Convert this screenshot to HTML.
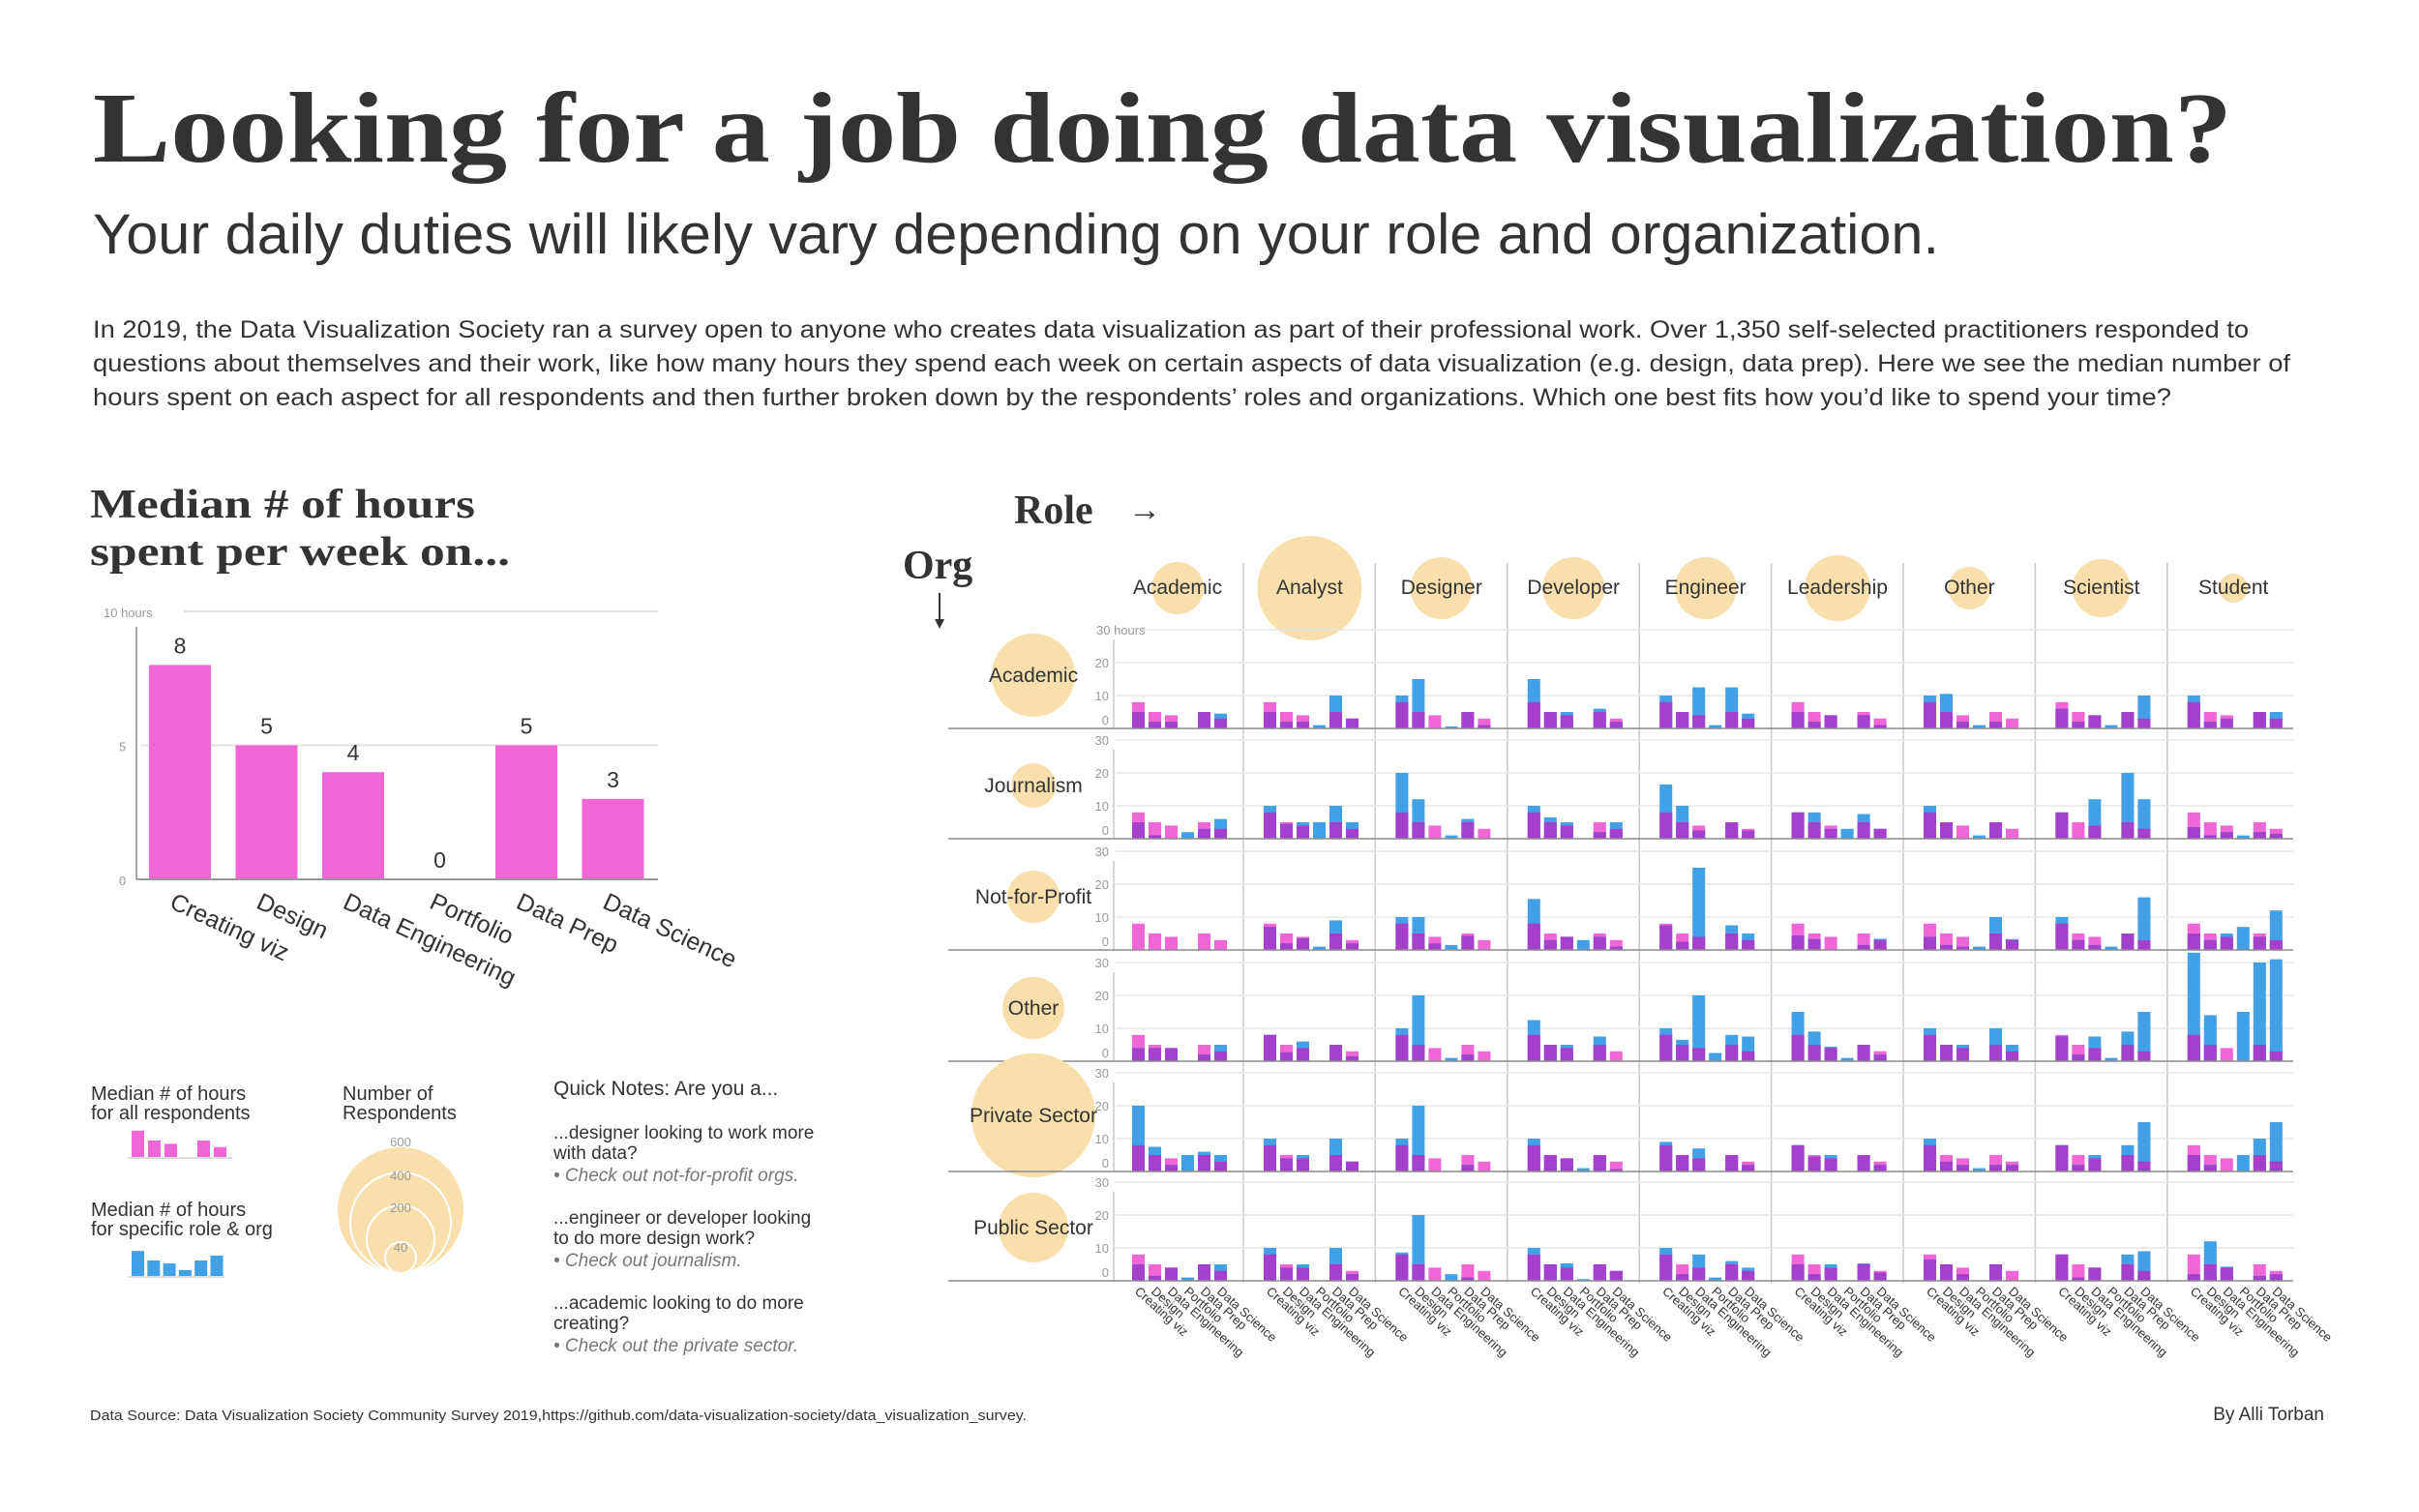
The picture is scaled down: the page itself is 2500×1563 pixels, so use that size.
<!DOCTYPE html>
<html><head><meta charset="utf-8">
<style>
html,body{margin:0;padding:0;background:#fff;}
svg{display:block;}
text{font-family:"Liberation Sans",sans-serif;fill:#333;}
.serif{font-family:"Liberation Serif",serif;font-weight:bold;fill:#333;}
.tick{fill:#9a9a9a;font-size:13px;}
</style></head>
<body>
<svg id="root" width="2500" height="1563" viewBox="0 0 2500 1563" xmlns="http://www.w3.org/2000/svg">
<rect width="2500" height="1563" fill="#fff"/>
<text class="serif" x="96" y="167" font-size="104" textLength="2211" lengthAdjust="spacingAndGlyphs">Looking for a job doing data visualization?</text>
<text x="96" y="262" font-size="58" textLength="1908" lengthAdjust="spacingAndGlyphs">Your daily duties will likely vary depending on your role and organization.</text>
<g font-size="25">
<text x="96" y="349" textLength="2228" lengthAdjust="spacingAndGlyphs">In 2019, the Data Visualization Society ran a survey open to anyone who creates data visualization as part of their professional work. Over 1,350 self-selected practitioners responded to</text>
<text x="96" y="384" textLength="2271" lengthAdjust="spacingAndGlyphs">questions about themselves and their work, like how many hours they spend each week on certain aspects of data visualization (e.g. design, data prep). Here we see the median number of</text>
<text x="96" y="419" textLength="2148" lengthAdjust="spacingAndGlyphs">hours spent on each aspect for all respondents and then further broken down by the respondents’ roles and organizations. Which one best fits how you’d like to spend your time?</text>
</g>
<text class="serif" x="93" y="535" font-size="42" textLength="398" lengthAdjust="spacingAndGlyphs">Median # of hours</text>
<text class="serif" x="93" y="584" font-size="42" textLength="434" lengthAdjust="spacingAndGlyphs">spent per week on...</text>
<g id="overall"></g>

<g>
<text x="94" y="1137" font-size="20">Median # of hours</text>
<text x="94" y="1157" font-size="20">for all respondents</text>
<text x="94" y="1257" font-size="20">Median # of hours</text>
<text x="94" y="1277" font-size="20">for specific role &amp; org</text>
<g id="legendBars"></g>
<text x="354" y="1137" font-size="20">Number of</text>
<text x="354" y="1157" font-size="20">Respondents</text>
<g>
<circle cx="414" cy="1251" r="65" fill="#f9dfab"/>
<circle cx="414" cy="1264" r="52" fill="#f9dfab" stroke="#fff" stroke-width="2"/>
<circle cx="414" cy="1281" r="35" fill="#f9dfab" stroke="#fff" stroke-width="2"/>
<circle cx="414" cy="1300" r="16" fill="#f9dfab" stroke="#fff" stroke-width="2"/>
<text x="414" y="1185" font-size="12" text-anchor="middle" class="tick">600</text>
<text x="414" y="1220" font-size="12" text-anchor="middle" class="tick">400</text>
<text x="414" y="1253" font-size="12" text-anchor="middle" class="tick">200</text>
<text x="414" y="1294" font-size="12" text-anchor="middle" class="tick">40</text>
</g>
<g font-size="19">
<text x="572" y="1132" font-size="21">Quick Notes: Are you a...</text>
<text x="572" y="1177">...designer looking to work more</text>
<text x="572" y="1198">with data?</text>
<text x="572" y="1221" font-style="italic" style="fill:#777">• Check out not-for-profit orgs.</text>
<text x="572" y="1265">...engineer or developer looking</text>
<text x="572" y="1286">to do more design work?</text>
<text x="572" y="1309" font-style="italic" style="fill:#777">• Check out journalism.</text>
<text x="572" y="1353">...academic looking to do more</text>
<text x="572" y="1374">creating?</text>
<text x="572" y="1397" font-style="italic" style="fill:#777">• Check out the private sector.</text>
</g>
</g>
<text x="93" y="1468" font-size="15" textLength="968" lengthAdjust="spacingAndGlyphs">Data Source: Data Visualization Society Community Survey 2019,https://github.com/data-visualization-society/data_visualization_survey.</text>
<text x="2402" y="1468" font-size="19" text-anchor="end">By Alli Torban</text>

<text class="serif" x="1048" y="541" font-size="42">Role</text>
<text x="1166" y="538" font-size="34">→</text>
<text class="serif" x="933" y="598" font-size="42">Org</text>
<g><line x1="971" y1="613" x2="971" y2="645" stroke="#333" stroke-width="2"/><path d="M966,640 L971,650 L976,640 Z" fill="#333"/></g>
<g id="grid"></g>
</svg>
<script>
const categories = ["Creating viz","Design","Data Engineering","Portfolio","Data Prep","Data Science"];
const overallHours = [8,5,4,0,5,3];
const roles = ["Academic","Analyst","Designer","Developer","Engineer","Leadership","Other","Scientist","Student"];
const roleRadius = [27,54,32,32,32,34,22,30,15];
const orgs = ["Academic","Journalism","Not-for-Profit","Other","Private Sector","Public Sector"];
const orgRadius = [43,23,27,32,64,36];
const hoursAcademicOrg = [[5,2,2,0,5,4.5],[5,2,2,1,10,3],[10,15,0,0.6,5,1],[15,5,5,0,6,2],[10,5,12.5,1,12.5,4.5],[5,2,4,0,4,1],[10,10.5,2,1,2,0],[6,2,4,1,5,10],[10,2,3,0,5,5]];
const hoursJournalism = [[5,1,0,2,3,6],[10,4.5,5,5,10,5],[20,12,0,1,6,0],[10,6.5,5,0,2,5],[16.5,10,2.5,0,5,2.5],[8,8,3,3,7.5,3],[10,5,0,1,5,0],[8,0,12,0,20,12],[3.5,1,2,1,2,1.5]];
const hoursNonProfit = [[0,0,0,0,0,0],[7,2,3.5,1,9,2],[10,10,2,1.5,4.3,0],[15.5,3,4,3,4,1],[7.5,2.5,25,0,7.5,5],[4.4,3.3,0,0,1.5,3.4],[4,1.5,1,1,10,3.3],[10,3,1.5,1,5,16],[5,3,5,7,4,12]];
const hoursOtherOrg = [[4,4,4,0,2,5],[8,2.7,6,0,5,1.5],[10,20,0,1,2,0],[12.5,5,5,0,7.5,0],[10,6.5,20,2.5,8,7.5],[15,9,4.4,1,5,2],[10,5,5,0,10,5],[7.6,2,7.5,1,9,15],[33,14,0,15,30,31]];
const hoursPrivate = [[20,7.5,2,5,6,5],[10,4,5,0,10,3],[10,20,0,0,2,0],[10,5,4,1,5,0.7],[9,5,7,0,5,2],[8,4.5,5,0,5,2],[10,3,2,1,2,2],[8,2,5,0,8,15],[5,2,0,5,10,15]];
const hoursPublic = [[5,1.5,4,1,5,5],[10,4,5,0,10,2],[8.6,20,0,2,1,0],[10,5,5.3,0.5,5,3],[10,2,8,1,6,4],[5,2,5,0,5.3,2.5],[6.5,5,2,0,5,0],[8,1,4,0,8,9],[2,12,4.3,0,1.5,2]];
const legendSpecific = [7.6,4.7,3.8,1.8,4.7,6.2];
const gridTicks = [0,10,20,30];
const overallTicks = [0,5,10];

const PINK="#f066d6", BLUE="#42a0e6", PURPLE="#a540cc", BUB="#f9dfab";
const NS="http://www.w3.org/2000/svg";
function mk(tag, attrs, parent){const e=document.createElementNS(NS,tag);for(const k in attrs)e.setAttribute(k,attrs[k]);parent.appendChild(e);return e;}

const ov=document.getElementById('overall');
const oy0=909, oUnit=27.7;
const oyS=v=>oy0-v*oUnit;
const oxS=i=>154+i*89.5;
overallTicks.forEach(t=>{
  if(t>0){const l=mk('line',{x1:t===10?190:145,x2:680,y1:oyS(t),y2:oyS(t),stroke:"#e2e2e2","stroke-width":2},ov);
  
  }
  const tx=mk('text',{x:t===10?107:123,y:oyS(t)+6,"font-size":17,class:"tick"},ov);
  tx.textContent=t===10?"10 hours":String(t);
  
  
});
mk('line',{x1:141,x2:141,y1:648,y2:oy0,stroke:"#aaa","stroke-width":2},ov);
categories.forEach((c,i)=>{
  const v=overallHours[i];
  const r=mk('rect',{x:oxS(i),y:oyS(v),width:64,height:v*oUnit,fill:PINK},ov);
  
  
  const vl=mk('text',{x:oxS(i)+32,y:oyS(v)-12,"font-size":23,"text-anchor":"middle"},ov);
  vl.textContent=v;
  
  
  const xl=mk('text',{x:oxS(i)+20,y:938,"font-size":25,transform:`rotate(25 ${oxS(i)+20} 938)`},ov);
  xl.textContent=c;
  
  
});
mk('line',{x1:141,x2:680,y1:oy0,y2:oy0,stroke:"#999","stroke-width":2},ov);

const lb=document.getElementById('legendBars');
const lUnit=3.4;
categories.forEach((c,i)=>{
  const r=mk('rect',{x:136+i*17,y:1196-overallHours[i]*lUnit,width:13,height:overallHours[i]*lUnit,fill:PINK},lb);
  
  
  const b=mk('rect',{x:136+i*16.3,y:1319-legendSpecific[i]*lUnit,width:13,height:legendSpecific[i]*lUnit,fill:BLUE},lb);
  
  
});
mk('line',{x1:132,x2:240,y1:1197,y2:1197,stroke:"#ddd","stroke-width":2},lb);
mk('line',{x1:132,x2:232,y1:1320,y2:1320,stroke:"#ddd","stroke-width":2},lb);

const g=document.getElementById('grid');
const orgData=[hoursAcademicOrg,hoursJournalism,hoursNonProfit,hoursOtherOrg,hoursPrivate,hoursPublic];
const baselines=[753,867,982,1097,1211,1324];
const unit=3.4;
const colLeft=k=>k===0?1151:1285+(k-1)*136.4;
const colCenter=k=>1217+k*136.4;
const barX=(k,i)=>(k===0?1170:colLeft(k)+21)+i*17;
const yS=(r,v)=>baselines[r]-v*unit;
for(let k=1;k<roles.length;k++){
  const l=mk('line',{x1:colLeft(k),x2:colLeft(k),y1:582,y2:1326,stroke:"#c8c8c8","stroke-width":1.5},g);
  
  
}
roles.forEach((r,k)=>{
  const c=mk('circle',{cx:colCenter(k),cy:608,r:roleRadius[k],fill:BUB},g);
  
  
  const t=mk('text',{x:colCenter(k),y:614,"font-size":21,"text-anchor":"middle"},g);
  t.textContent=r;
  
  
});
orgs.forEach((o,r)=>{
  const b=baselines[r];
  gridTicks.forEach(t=>{
    if(t>0){const gl=mk('line',{x1:t===30&&r===0?1180:1153,x2:2370,y1:yS(r,t),y2:yS(r,t),stroke:"#e6e6e6","stroke-width":1.5},g);
    
    }
    const tx=mk('text',{x:t===30&&r===0?1133:1146,y:yS(r,t)+ (t===0?-4:5),"font-size":13,class:"tick","text-anchor":t===30&&r===0?"start":"end"},g);
    tx.textContent=(t===30&&r===0)?"30 hours":String(t);
    
    
  });
  mk('line',{x1:1151,x2:1151,y1:yS(r,30)+10,y2:b,stroke:"#c8c8c8","stroke-width":1.5},g);
  const cy=r===4?b-58:b-55;
  const c=mk('circle',{cx:1068,cy:cy,r:orgRadius[r],fill:BUB},g);
  
  
  const t=mk('text',{x:1068,y:cy+7,"font-size":21,"text-anchor":"middle"},g);
  t.textContent=o;
  
  
  roles.forEach((ro,k)=>{
    const vals=orgData[r][k];
    categories.forEach((cat,i)=>{
      const x=barX(k,i), ov=overallHours[i], sv=vals[i];
      const p=mk('rect',{x:x,y:yS(r,ov),width:13,height:ov*unit,fill:PINK},g);
      
      
      const bl=mk('rect',{x:x,y:yS(r,sv),width:13,height:sv*unit,fill:BLUE},g);
      
      
      const m=Math.min(ov,sv);
      const pu=mk('rect',{x:x,y:yS(r,m),width:13,height:m*unit,fill:PURPLE},g);
      
      
    });
  });
  const bl=mk('line',{x1:980,x2:2370,y1:b,y2:b,stroke:"#8a8a8a","stroke-width":1.5},g);
  
  
});
roles.forEach((ro,k)=>{
  categories.forEach((cat,i)=>{
    const x=barX(k,i)+2, y=1336;
    const t=mk('text',{x:x,y:y,"font-size":13,transform:`rotate(42 ${x} ${y})`},g);
    t.textContent=cat;
    
    
  });
});
</script>
</body></html>
